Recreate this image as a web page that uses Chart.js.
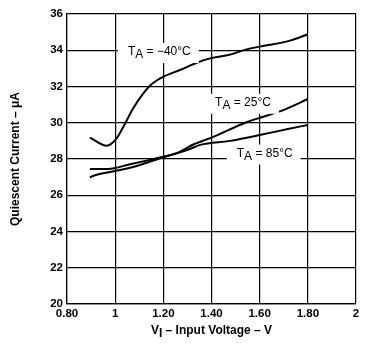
<!DOCTYPE html>
<html>
<head>
<meta charset="utf-8">
<script src="https://cdn.jsdelivr.net/npm/chart.js@4.4.0/dist/chart.umd.min.js"></script>
<style>
  html, body { margin: 0; padding: 0; background: #fff; }
  canvas { display: block; }
</style>
</head>
<body>
<canvas id="myChart" width="390" height="345"></canvas>
<script>
// values
const voltsCold = [0.895, 0.965, 1.006, 1.034, 1.075, 1.117, 1.152, 1.20, 1.269, 1.339, 1.394, 1.477, 1.546, 1.60, 1.726, 1.80];
const currentCold = [29.18, 28.73, 29.14, 29.78, 30.8, 31.62, 32.14, 32.54, 32.91, 33.31, 33.55, 33.76, 34.05, 34.2, 34.53, 34.88];

const voltsRoom = [0.895, 0.92, 1.02, 1.103, 1.186, 1.256, 1.325, 1.40, 1.546, 1.615, 1.698, 1.80];
const currentRoom = [26.99, 27.12, 27.39, 27.67, 28.04, 28.33, 28.8, 29.18, 30.03, 30.33, 30.7, 31.31];

const voltsHot = [0.895, 0.97, 1.062, 1.13, 1.20, 1.256, 1.31, 1.353, 1.477, 1.60, 1.712, 1.80];
const currentHot = [27.45, 27.45, 27.71, 27.91, 28.13, 28.31, 28.55, 28.78, 29.0, 29.32, 29.64, 29.88];

const xTickLabels = ['0.80', '1', '1.20', '1.40', '1.60', '1.80', '2'];
const seriesNames = ['\u221240\u00b0C', '25\u00b0C', '85\u00b0C'];

// where the T_A notes sit, in data units (left edge, vertical centre)
const noteAnchors = [
  { x: 1.053, y: 33.9 },
  { x: 1.415, y: 31.1 },
  { x: 1.505, y: 28.3 }
];

const FONT = '"Liberation Sans", Arial, sans-serif';

const toPoints = (xs, ys) => xs.map((v, i) => ({ x: v, y: ys[i] }));

// draw text pieces, some of them lowered as subscript
const drawParts = (ctx, parts, x, y, font) => {
  ctx.font = font;
  ctx.textBaseline = 'middle';
  ctx.textAlign = 'left';
  let cx = x;
  parts.forEach(p => {
    ctx.fillText(p.t, cx, p.sub ? y + 3 : y);
    cx += ctx.measureText(p.t).width;
  });
  return cx - x;
};

const measureParts = (ctx, parts, font) => {
  ctx.font = font;
  return parts.reduce((w, p) => w + ctx.measureText(p.t).width, 0);
};

const notesPlugin = {
  id: 'notes',
  afterDatasetsDraw(chart) {
    const ctx = chart.ctx;
    const xs = chart.scales.x, ys = chart.scales.y;
    ctx.save();
    const font = '12px ' + FONT;
    seriesNames.forEach((name, i) => {
      const parts = [{ t: 'T' }, { t: 'A', sub: true }, { t: ' = ' + name }];
      const px = xs.getPixelForValue(noteAnchors[i].x);
      const py = ys.getPixelForValue(noteAnchors[i].y);
      const w = measureParts(ctx, parts, font);
      ctx.fillStyle = '#fff';
      ctx.fillRect(px - 10, py - 9, w + 18, 20);
      ctx.fillStyle = '#000';
      drawParts(ctx, parts, px, py, font);
    });

    // x axis title with subscript I
    const tFont = 'bold 12px ' + FONT;
    const tParts = [{ t: 'V' }, { t: 'I', sub: true }, { t: ' \u2013 Input Voltage \u2013 V' }];
    const tw = measureParts(ctx, tParts, tFont);
    const cx = (chart.chartArea.left + chart.chartArea.right) / 2;
    drawParts(ctx, tParts, cx - tw / 2, 331, tFont);
    ctx.restore();
  }
};

const lineStyle = {
  borderColor: '#000',
  borderWidth: 2,
  pointRadius: 0,
  fill: false,
  cubicInterpolationMode: 'monotone'
};

const ctx = document.getElementById('myChart').getContext('2d');
new Chart(ctx, {
  type: 'line',
  data: {
    datasets: [
      { label: seriesNames[0], data: toPoints(voltsCold, currentCold), ...lineStyle },
      { label: seriesNames[1], data: toPoints(voltsRoom, currentRoom), ...lineStyle },
      { label: seriesNames[2], data: toPoints(voltsHot, currentHot), ...lineStyle }
    ]
  },
  options: {
    responsive: false,
    animation: false,
    devicePixelRatio: 1,
    layout: { padding: { top: 14, right: 34, left: 0, bottom: 0 } },
    plugins: { legend: { display: false }, tooltip: { enabled: false } },
    scales: {
      x: {
        type: 'linear',
        min: 0.8,
        max: 2,
        ticks: {
          stepSize: 0.2,
          color: '#000',
          padding: 3,
          maxRotation: 0,
          font: { family: FONT, size: 11.5, weight: 'bold' },
          callback: (value, index) => xTickLabels[index]
        },
        grid: { color: '#000', lineWidth: 1.2, drawTicks: false },
        border: { color: '#000', width: 1.2 },
        afterFit: scale => { scale.height = 41; }
      },
      y: {
        min: 20,
        max: 36,
        ticks: {
          stepSize: 2,
          color: '#000',
          padding: 4,
          font: { family: FONT, size: 11.5, weight: 'bold' }
        },
        grid: { color: '#000', lineWidth: 1.2, drawTicks: false },
        border: { color: '#000', width: 1.2 },
        title: {
          display: true,
          text: 'Quiescent Current \u2013 \u03bcA',
          color: '#000',
          padding: { top: 8, bottom: 0 },
          font: { family: FONT, size: 12, weight: 'bold' }
        },
        afterFit: scale => { scale.width = 67; }
      }
    }
  },
  plugins: [notesPlugin]
});
</script>
</body>
</html>
